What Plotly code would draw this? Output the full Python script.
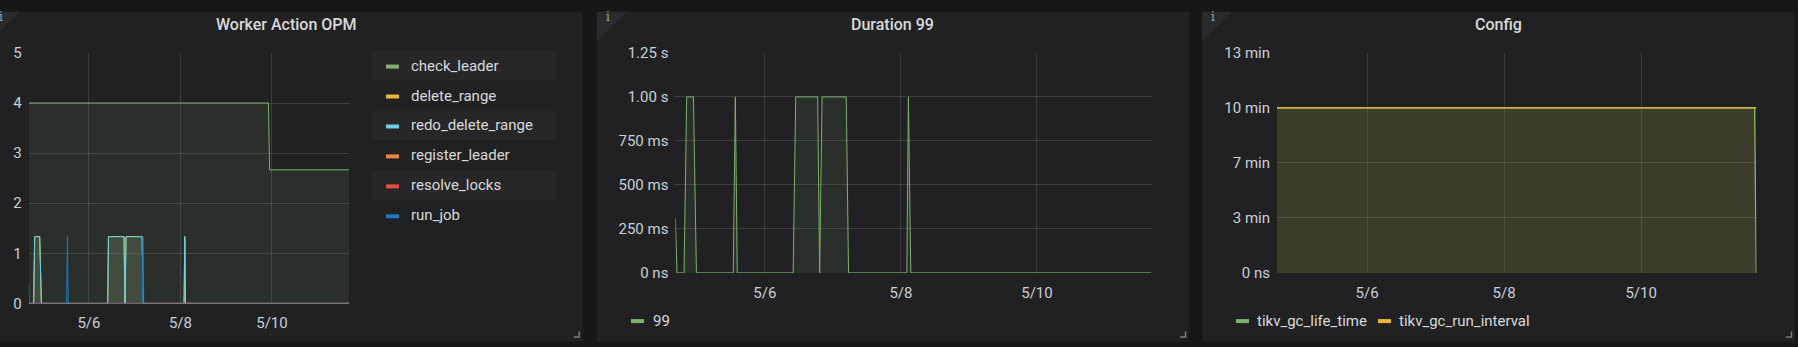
import plotly.graph_objects as go

W, H = 1798, 347

# ---------------- data ----------------
X_START = "2020-05-04 16:25"
X_END = "2020-05-11 16:25"
date_ticks = ["2020-05-06", "2020-05-08", "2020-05-10"]
date_ticktext = ["5/6", "5/8", "5/10"]

# Worker Action OPM
opm_series = ["check_leader", "delete_range", "redo_delete_range",
              "register_leader", "resolve_locks", "run_job"]
opm_colors = ["#7EB26D", "#EAB839", "#6ED0E0", "#EF843C", "#E24D42", "#1F78C1"]

check_leader_t = [X_START, "2020-05-09 22:10", "2020-05-09 22:45", X_END]
check_leader_v = [4, 4, 2.667, 2.667]

delete_range_t = [X_START, "2020-05-04 19:00", "2020-05-04 19:33", "2020-05-04 22:11",
                  "2020-05-04 23:04", "2020-05-06 09:52", "2020-05-06 10:14",
                  "2020-05-06 18:25", "2020-05-06 18:56", "2020-05-06 19:28",
                  "2020-05-07 03:52", "2020-05-07 04:36", "2020-05-08 01:55",
                  "2020-05-08 02:17", "2020-05-08 02:38", X_END]
delete_range_v = [0, 0, 1.333, 1.333, 0, 0, 1.333, 1.333, 0, 1.333, 1.333, 0, 0, 1.333, 0, 0]

redo_delete_range_t = list(delete_range_t)
redo_delete_range_v = [0, 0, 1.333, 1.333, 0, 0, 1.333, 1.333, 0, 1.333, 1.333, 0, 0, 1.333, 0, 0]

register_leader_t = [X_START, X_END]
register_leader_v = [0, 0]
resolve_locks_t = [X_START, X_END]
resolve_locks_v = [0, 0]

run_job_t = [X_START, "2020-05-04 16:45", "2020-05-05 12:18", "2020-05-05 12:43",
             "2020-05-05 13:08", "2020-05-07 04:00", "2020-05-07 04:23",
             "2020-05-07 04:46", X_END]
run_job_v = [0.4, 0, 0, 1.333, 0, 0, 1.333, 0, 0]

opm_y_ticks = [0, 1, 2, 3, 4, 5]

# Duration 99 (seconds)
dur_series = ["99"]
dur_t = [X_START, "2020-05-04 17:00", "2020-05-04 19:28", "2020-05-04 20:24",
         "2020-05-04 22:47", "2020-05-04 23:50", "2020-05-05 12:50", "2020-05-05 13:34",
         "2020-05-05 14:15", "2020-05-06 09:58", "2020-05-06 10:52", "2020-05-06 18:37",
         "2020-05-06 19:19", "2020-05-06 20:10", "2020-05-07 04:42", "2020-05-07 05:31",
         "2020-05-08 02:05", "2020-05-08 02:38", "2020-05-08 03:29", X_END]
dur_v = [0.31, 0, 0, 1, 1, 0, 0, 1, 0, 0, 1, 1, 0, 1, 1, 0, 0, 1, 0, 0]
dur_y_ticks = [0, 0.25, 0.5, 0.75, 1.0, 1.25]
dur_y_text = ["0 ns", "250 ms", "500 ms", "750 ms", "1.00 s", "1.25 s"]

# Config (seconds)
cfg_series = ["tikv_gc_life_time", "tikv_gc_run_interval"]
cfg_colors = ["#7EB26D", "#EAB839"]
gc_life_time_t = [X_START, "2020-05-11 15:45", "2020-05-11 16:20"]
gc_life_time_v = [600, 600, 0]
gc_run_interval_t = [X_START, "2020-05-11 16:20"]
gc_run_interval_v = [600, 600]
cfg_y_ticks = [0, 200, 400, 600, 800]
cfg_y_text = ["0 ns", "3 min", "7 min", "10 min", "13 min"]

# ---------------- style ----------------
PAGE_BG = "#161719"
PANEL_BG = "#212124"
GRID = "rgba(255,255,255,0.12)"
TXT = "#d8d9da"
TICK_TXT = "#c7d0d9"
FONT = "Roboto"

# the photographed page shows the figure slightly squeezed vertically
# (observed row = 8.3 + 0.95 * figure row); pre-compensate layout rows.
Y_OFF, Y_SCALE = 8.3, 0.95


def px(x):
    return x / W


def py(y):
    return 1 - ((y - Y_OFF) / Y_SCALE) / H


def rgba(hexc, a):
    h = hexc.lstrip("#")
    r, g, b = int(h[0:2], 16), int(h[2:4], 16), int(h[4:6], 16)
    return f"rgba({r},{g},{b},{a})"


fig = go.Figure()

opm_data = [(check_leader_t, check_leader_v), (delete_range_t, delete_range_v),
            (redo_delete_range_t, redo_delete_range_v), (register_leader_t, register_leader_v),
            (resolve_locks_t, resolve_locks_v), (run_job_t, run_job_v)]
for name, col, (t, v) in zip(opm_series, opm_colors, opm_data):
    fig.add_trace(go.Scatter(x=t, y=v, name=name, mode="lines",
                             line=dict(color=col, width=1), fill="tozeroy",
                             fillcolor=rgba(col, 0.1), xaxis="x", yaxis="y",
                             showlegend=False, hoverinfo="skip"))

fig.add_trace(go.Scatter(x=dur_t, y=dur_v, name=dur_series[0], mode="lines",
                         line=dict(color="#7EB26D", width=1), fill="tozeroy",
                         fillcolor=rgba("#7EB26D", 0.1), xaxis="x2", yaxis="y2",
                         showlegend=False, hoverinfo="skip"))

for name, col, (t, v) in zip(cfg_series, cfg_colors,
                             [(gc_life_time_t, gc_life_time_v), (gc_run_interval_t, gc_run_interval_v)]):
    fig.add_trace(go.Scatter(x=t, y=v, name=name, mode="lines",
                             line=dict(color=col, width=1.3), fill="tozeroy",
                             fillcolor=rgba(col, 0.1), xaxis="x3", yaxis="y3",
                             showlegend=False, hoverinfo="skip"))

# ---------------- axes ----------------
xcommon = dict(type="date", range=[X_START, X_END], tickvals=date_ticks, ticktext=date_ticktext,
               showgrid=True, gridcolor=GRID, gridwidth=1, zeroline=False, showline=False,
               ticks="", tickfont=dict(family=FONT, size=15, color=TICK_TXT),
               ticklabelstandoff=9, fixedrange=True)
ycommon = dict(showgrid=True, gridcolor=GRID, gridwidth=1, zeroline=False, showline=False,
               ticks="", tickfont=dict(family=FONT, size=15, color=TICK_TXT),
               ticklabelstandoff=6, fixedrange=True)

fig.update_layout(
    xaxis=dict(domain=[px(28.7), px(349)], anchor="y", **xcommon),
    yaxis=dict(domain=[py(303.3), py(52.3)], anchor="x", range=[0, 5], tickvals=opm_y_ticks, **ycommon),
    xaxis2=dict(domain=[px(675.4), px(1151.5)], anchor="y2", **xcommon),
    yaxis2=dict(domain=[py(272.7), py(52.3)], anchor="x2", range=[0, 1.25], tickvals=dur_y_ticks,
                ticktext=dur_y_text, **ycommon),
    xaxis3=dict(domain=[px(1277), px(1756.5)], anchor="y3", **xcommon),
    yaxis3=dict(domain=[py(272.7), py(52.3)], anchor="x3", range=[0, 800], tickvals=cfg_y_ticks,
                ticktext=cfg_y_text, **ycommon),
)

# ---------------- panels ----------------
shapes = []
annotations = []
panels = [(-10, 582.7, "Worker Action OPM"), (596.7, 1189, "Duration 99"), (1202, 1795, "Config")]
for (x0, x1, title) in panels:
    shapes.append(dict(type="rect", xref="paper", yref="paper", x0=px(x0), x1=px(x1),
                       y0=py(341.7), y1=py(11), fillcolor=PANEL_BG, line=dict(width=0), layer="below"))
    # info corner
    shapes.append(dict(type="path", xref="paper", yref="paper",
                       path=f"M {px(x0)},{py(11)} L {px(x0 + 30)},{py(11)} L {px(x0)},{py(40)} Z",
                       fillcolor="#2b2b2f", line=dict(width=0), layer="below"))
    annotations.append(dict(text="i", xref="paper", yref="paper", x=px(x0 + 11), y=py(16),
                            showarrow=False, font=dict(family="DejaVu Serif", size=12, color="#9fa1a6"),
                            xanchor="center", yanchor="middle"))
    # resize handle
    shapes.append(dict(type="path", xref="paper", yref="paper",
                       path=f"M {px(x1 - 9)},{py(337)} L {px(x1 - 3.5)},{py(337)} L {px(x1 - 3.5)},{py(331.5)}",
                       line=dict(color="#7b7b80", width=1.5), layer="above"))
    annotations.append(dict(text=title, xref="paper", yref="paper", x=px((x0 + x1) / 2), y=py(23.5),
                            showarrow=False, font=dict(family=FONT, size=16, color=TXT, weight=500),
                            xanchor="center", yanchor="middle"))

# panel 1 legend (vertical table)
for i, (name, col) in enumerate(zip(opm_series, opm_colors)):
    yc = 65 + 30 * i
    if i % 2 == 0:
        shapes.append(dict(type="rect", xref="paper", yref="paper", x0=px(371.7), x1=px(556),
                           y0=py(yc + 15), y1=py(yc - 15), fillcolor="#27272a",
                           line=dict(width=0), layer="below"))
    shapes.append(dict(type="line", xref="paper", yref="paper", x0=px(386), x1=px(399),
                       y0=py(yc + 1), y1=py(yc + 1), line=dict(color=col, width=4)))
    annotations.append(dict(text=name, xref="paper", yref="paper", x=px(408.5), y=py(yc),
                            showarrow=False, font=dict(family=FONT, size=15, color=TXT),
                            xanchor="left", yanchor="middle"))

# panel 2 legend
shapes.append(dict(type="line", xref="paper", yref="paper", x0=px(631), x1=px(644),
                   y0=py(321), y1=py(321), line=dict(color="#7EB26D", width=4)))
annotations.append(dict(text=dur_series[0], xref="paper", yref="paper", x=px(650.5), y=py(320.5),
                        showarrow=False, font=dict(family=FONT, size=15, color=TXT),
                        xanchor="left", yanchor="middle"))

# panel 3 legend
cfg_leg_x = [1235, 1377]
for name, col, lx in zip(cfg_series, cfg_colors, cfg_leg_x):
    shapes.append(dict(type="line", xref="paper", yref="paper", x0=px(lx + 1), x1=px(lx + 14),
                       y0=py(321), y1=py(321), line=dict(color=col, width=4)))
    annotations.append(dict(text=name, xref="paper", yref="paper", x=px(lx + 20), y=py(320.5),
                            showarrow=False, font=dict(family=FONT, size=15, color=TXT),
                            xanchor="left", yanchor="middle"))

fig.update_layout(
    width=W, height=H, autosize=False,
    margin=dict(l=0, r=0, t=0, b=0, pad=0),
    paper_bgcolor=PAGE_BG, plot_bgcolor="rgba(0,0,0,0)",
    showlegend=False, shapes=shapes, annotations=annotations,
    font=dict(family=FONT, color=TXT),
)

fig.write_html("out.html", config={"displayModeBar": False})
